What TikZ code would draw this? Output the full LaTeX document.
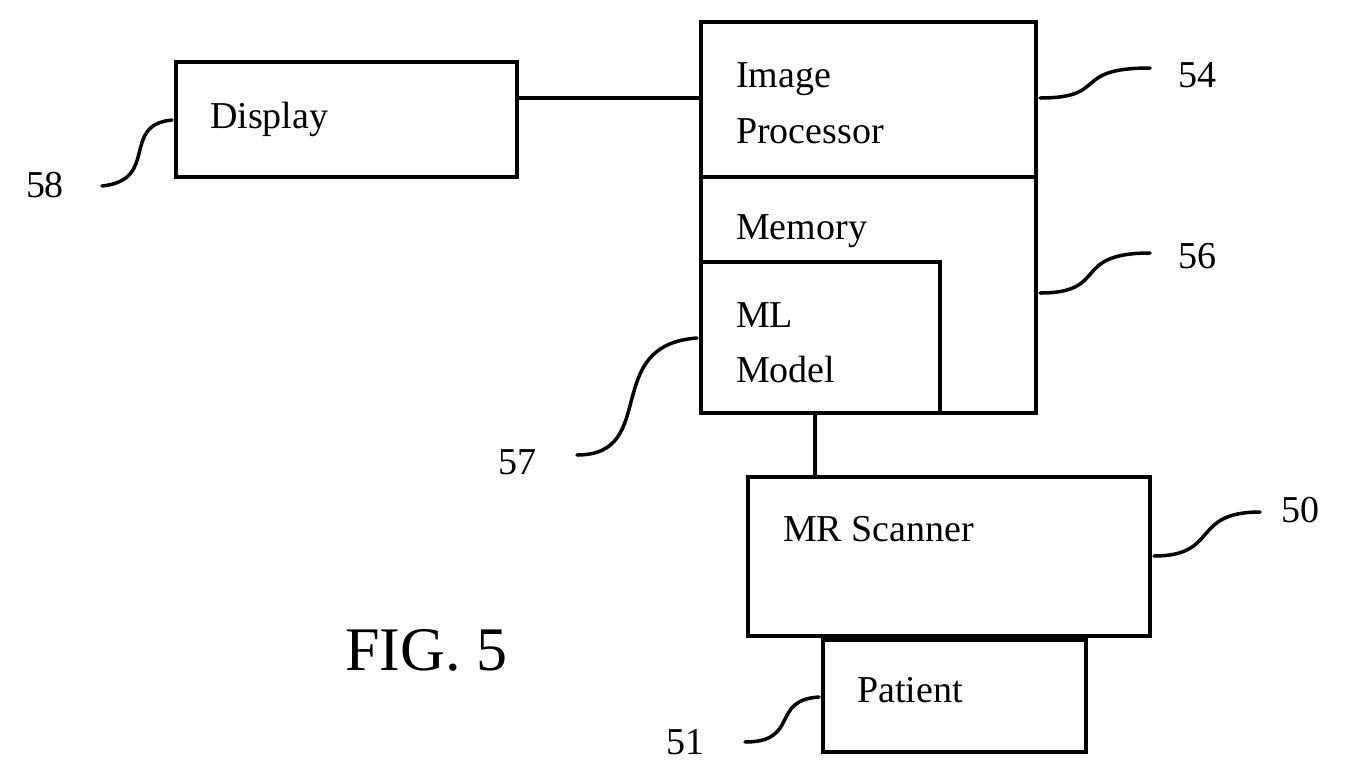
\documentclass[tikz,border=0pt]{standalone}
\usepackage{fontspec}
\setmainfont{Liberation Serif}
\begin{document}
\begin{tikzpicture}[x=1pt,y=-1pt,
  box/.style={draw,line width=3.5pt},
  ln/.style={line width=3.5pt},
  lead/.style={line width=3.5pt,line cap=round},
  txt/.style={anchor=base west,inner sep=0pt,font=\fontsize{38}{42}\selectfont},
  num/.style={anchor=center,inner sep=0pt,font=\fontsize{38}{42}\selectfont}]
\useasboundingbox (0,0) rectangle (1361,780);
% boxes
\draw[box] (176,62) rectangle (517,177);
\draw[box] (701,22) rectangle (1036,177);
\draw[box] (701,177) rectangle (1036,413);
\draw[box] (701,262) -- (940,262) -- (940,413);
\draw[box] (748,477) rectangle (1150,636);
\draw[box] (823,640) rectangle (1086,752);
\coordinate (dR) at (517,98); \coordinate (ipL) at (701,98);
\coordinate (mB) at (815,413); \coordinate (sT) at (815,477);
\draw[ln] (dR) -- (ipL);
\draw[ln] (mB) -- (sT);
% texts
\node[txt] (t1) at (210,128) {Display};
\node[txt] (t2) at (736,87) {Image};
\node[txt] (t3) at (736,143) {Processor};
\node[txt] (t4) at (736,239) {Memory};
\node[txt] (t5) at (736,327) {ML};
\node[txt] (t6) at (736,382) {Model};
\node[txt] (t7) at (783,541) {MR Scanner};
\node[txt] (t8) at (857,702) {Patient};
\node[anchor=base west,inner sep=0pt,font=\fontsize{62}{70}\selectfont] (fig) at (345,670) {FIG. 5};
% numbers
\node[num] (n54) at (1197,75) {54};
\node[num] (n56) at (1197,256) {56};
\node[num] (n50) at (1300,510) {50};
\node[num] (n58) at (45,185) {58};
\node[num] (n57) at (517,462) {57};
\node[num] (n51) at (685,742) {51};
% leaders
\draw[lead] (1040,98) .. controls (1110,98) and (1070,68) .. (1150,68);
\draw[lead] (1040,293) .. controls (1110,293) and (1070,253) .. (1150,253);
\draw[lead] (1154,556) .. controls (1220,556) and (1190,512) .. (1260,512);
\draw[lead] (172,120) .. controls (120,125) and (160,180) .. (102,186);
\draw[lead] (697,338) .. controls (600,345) and (660,455) .. (577,455);
\draw[lead] (819,697) .. controls (770,700) and (800,742) .. (745,742);
\end{tikzpicture}
\end{document}
